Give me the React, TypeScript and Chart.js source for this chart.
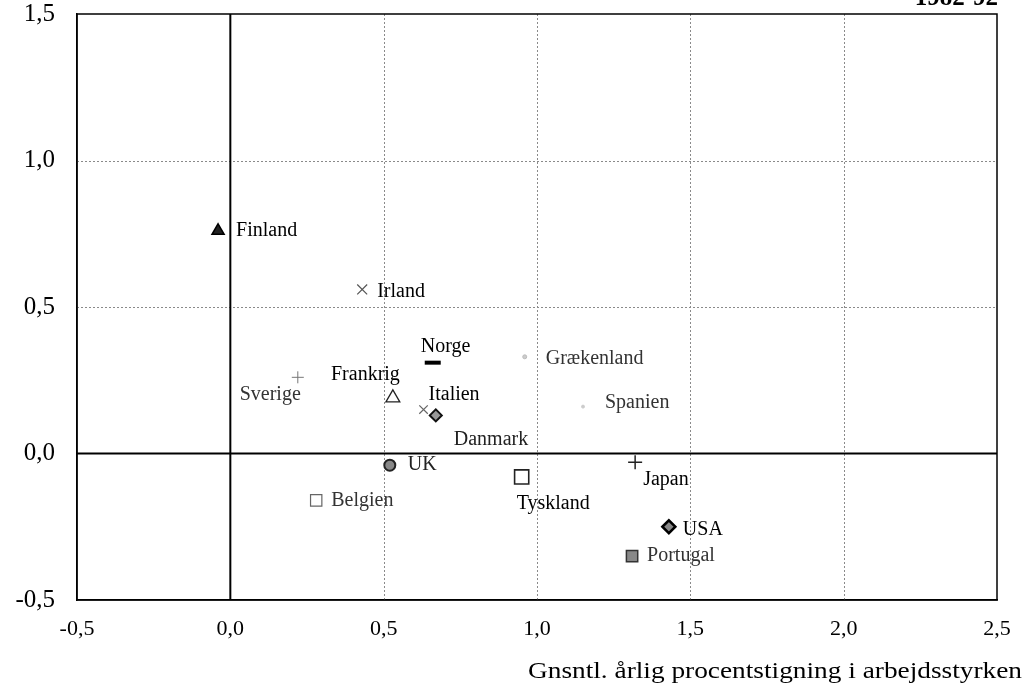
import React, { useEffect, useRef } from "react";
import { Chart, registerables } from "chart.js";

Chart.register(...registerables);

// ---- data ----
const COUNTRIES = [
  "Finland", "Irland", "Norge", "Grækenland", "Sverige", "Frankrig", "Italien", "Danmark",
  "Spanien", "UK", "Belgien", "Tyskland", "Japan", "USA", "Portugal",
];
const X_VALUES = [-0.04, 0.43, 0.66, 0.96, 0.22, 0.53, 0.63, 0.67, 1.15, 0.52, 0.28, 0.95, 1.32, 1.43, 1.31];
const Y_VALUES = [0.76, 0.56, 0.31, 0.33, 0.26, 0.19, 0.15, 0.13, 0.16, -0.04, -0.16, -0.08, -0.03, -0.25, -0.35];
const X_TICK_VALUES = [-0.5, 0, 0.5, 1, 1.5, 2, 2.5];
const X_TICK_LABELS = ["-0,5", "0,0", "0,5", "1,0", "1,5", "2,0", "2,5"];
const Y_TICK_VALUES = [-0.5, 0, 0.5, 1, 1.5];
const Y_TICK_LABELS = ["-0,5", "0,0", "0,5", "1,0", "1,5"];
const PERIOD = "1982-92";
const X_TITLE = "Gnsntl. årlig procentstigning i arbejdsstyrken";

// ---- styles ----
type Marker = { style: string; r: number; fill: string; stroke: string; w: number };
const MARKERS: Marker[] = [
  { style: "triangle", r: 7, fill: "#222", stroke: "#000", w: 1.5 },
  { style: "crossRot", r: 7, fill: "#666", stroke: "#555", w: 1.2 },
  { style: "line", r: 8, fill: "#000", stroke: "#000", w: 4 },
  { style: "circle", r: 2, fill: "#ccc", stroke: "#bbb", w: 1 },
  { style: "cross", r: 6, fill: "#888", stroke: "#777", w: 1 },
  { style: "triangle", r: 8, fill: "#fff", stroke: "#222", w: 1.3 },
  { style: "crossRot", r: 6, fill: "#777", stroke: "#666", w: 1.2 },
  { style: "rectRot", r: 6, fill: "#999", stroke: "#111", w: 2 },
  { style: "circle", r: 1.5, fill: "#ccc", stroke: "#ccc", w: 1 },
  { style: "circle", r: 5.5, fill: "#888", stroke: "#222", w: 2 },
  { style: "rect", r: 8, fill: "#fff", stroke: "#666", w: 1.2 },
  { style: "rect", r: 10, fill: "#fff", stroke: "#222", w: 1.6 },
  { style: "cross", r: 7, fill: "#222", stroke: "#222", w: 1.5 },
  { style: "rectRot", r: 6.5, fill: "#888", stroke: "#000", w: 2.5 },
  { style: "rect", r: 8, fill: "#888", stroke: "#333", w: 1.5 },
];
type Lab = { dx: number; dy: number; align: CanvasTextAlign; color: string };
const LABELS: Lab[] = [
  { dx: 18, dy: 0, align: "left", color: "#000" },
  { dx: 15, dy: 2, align: "left", color: "#000" },
  { dx: -12, dy: -16, align: "left", color: "#000" },
  { dx: 21, dy: 2, align: "left", color: "#333" },
  { dx: 3, dy: 17, align: "right", color: "#333" },
  { dx: 7, dy: -23, align: "right", color: "#000" },
  { dx: 5, dy: -15, align: "left", color: "#000" },
  { dx: 18, dy: 24, align: "left", color: "#222" },
  { dx: 22, dy: -4, align: "left", color: "#333" },
  { dx: 18, dy: 0, align: "left", color: "#222" },
  { dx: 15, dy: 0, align: "left", color: "#333" },
  { dx: -5, dy: 27, align: "left", color: "#000" },
  { dx: 8, dy: 17, align: "left", color: "#000" },
  { dx: 14, dy: 3, align: "left", color: "#000" },
  { dx: 15, dy: 0, align: "left", color: "#333" },
];

const SERIF = "'Liberation Serif', 'DejaVu Serif', serif";

function tickLabel(values: number[], labels: string[], v: number): string {
  const i = values.findIndex((t) => Math.abs(t - v) < 1e-6);
  return i >= 0 ? labels[i] : "";
}

const gridPlugin = {
  id: "customGrid",
  beforeDatasetsDraw(chart: any) {
    const { ctx, chartArea, scales } = chart;
    const { left, right, top, bottom } = chartArea;
    ctx.save();
    ctx.strokeStyle = "#8a8a8a";
    ctx.lineWidth = 1;
    ctx.setLineDash([2, 2]);
    X_TICK_VALUES.forEach((v) => {
      if (v === 0 || v === scales.x.min || v === scales.x.max) return;
      const px = Math.round(scales.x.getPixelForValue(v)) + 0.5;
      ctx.beginPath();
      ctx.moveTo(px, top);
      ctx.lineTo(px, bottom);
      ctx.stroke();
    });
    Y_TICK_VALUES.forEach((v) => {
      if (v === 0 || v === scales.y.min || v === scales.y.max) return;
      const py = Math.round(scales.y.getPixelForValue(v)) + 0.5;
      ctx.beginPath();
      ctx.moveTo(left, py);
      ctx.lineTo(right, py);
      ctx.stroke();
    });
    ctx.setLineDash([]);
    ctx.strokeStyle = "#000";
    ctx.lineWidth = 2;
    const x0 = scales.x.getPixelForValue(0);
    const y0 = scales.y.getPixelForValue(0);
    ctx.beginPath();
    ctx.moveTo(x0, top);
    ctx.lineTo(x0, bottom);
    ctx.moveTo(left, y0);
    ctx.lineTo(right, y0);
    ctx.stroke();
    ctx.restore();
  },
};

const framePlugin = {
  id: "frameAndText",
  afterDraw(chart: any) {
    const { ctx, chartArea } = chart;
    ctx.save();
    ctx.strokeStyle = "#000";
    ctx.lineWidth = 1.5;
    ctx.strokeRect(chartArea.left, chartArea.top, chartArea.right - chartArea.left, chartArea.bottom - chartArea.top);
    ctx.fillStyle = "#000";
    ctx.font = `bold 25px ${SERIF}`;
    ctx.textAlign = "right";
    ctx.textBaseline = "alphabetic";
    ctx.fillText(PERIOD, 998, 5);
    ctx.font = `24px ${SERIF}`;
    ctx.textBaseline = "middle";
    ctx.textAlign = "left";
    const w = ctx.measureText(X_TITLE).width;
    const target = 1022 - 528;
    const sx = target / w;
    ctx.translate(528, 672);
    ctx.scale(sx, 1);
    ctx.fillText(X_TITLE, 0, 0);
    ctx.restore();
  },
};

const labelPlugin = {
  id: "pointLabels",
  afterDatasetsDraw(chart: any) {
    const { ctx } = chart;
    ctx.save();
    ctx.font = `20px ${SERIF}`;
    ctx.textBaseline = "middle";
    chart.data.datasets.forEach((ds: any, i: number) => {
      const el = chart.getDatasetMeta(i).data[0];
      if (!el) return;
      const l = LABELS[i];
      ctx.fillStyle = l.color;
      ctx.textAlign = l.align;
      ctx.fillText(ds.label, el.x + l.dx, el.y + l.dy);
    });
    ctx.restore();
  },
};

export default function App() {
  const ref = useRef<HTMLCanvasElement>(null);
  useEffect(() => {
    if (!ref.current) return;
    const datasets = COUNTRIES.map((c, i) => {
      const m = MARKERS[i];
      return {
        label: c,
        data: [{ x: X_VALUES[i], y: Y_VALUES[i] }],
        pointStyle: m.style as any,
        pointRadius: m.r,
        backgroundColor: m.fill,
        borderColor: m.stroke,
        borderWidth: m.w,
      };
    });
    const chart = new Chart(ref.current, {
      type: "scatter",
      data: { datasets },
      plugins: [gridPlugin, labelPlugin, framePlugin],
      options: {
        animation: false,
        responsive: true,
        maintainAspectRatio: false,
        layout: { padding: { top: 14, right: 31, left: 0, bottom: 0 } },
        plugins: { legend: { display: false }, tooltip: { enabled: false } },
        scales: {
          x: {
            type: "linear",
            min: -0.5,
            max: 2.5,
            afterFit: (s: any) => { s.height = 87; s.paddingLeft = 0; s.paddingRight = 0; },
            afterBuildTicks: (s: any) => { s.ticks = X_TICK_VALUES.map((v) => ({ value: v })); },
            ticks: {
              color: "#000",
              font: { family: SERIF, size: 22 },
              padding: 16,
              maxRotation: 0,
              callback: (v: any) => tickLabel(X_TICK_VALUES, X_TICK_LABELS, Number(v)),
            },
            grid: { display: false, drawTicks: false },
            border: { display: true, color: "#000", width: 1.5 },
          },
          y: {
            type: "linear",
            min: -0.5,
            max: 1.5,
            afterFit: (s: any) => { s.width = 77; s.paddingTop = 0; s.paddingBottom = 0; },
            afterBuildTicks: (s: any) => { s.ticks = Y_TICK_VALUES.map((v) => ({ value: v })); },
            ticks: {
              color: "#000",
              font: { family: SERIF, size: 25 },
              padding: 22,
              callback: (v: any) => tickLabel(Y_TICK_VALUES, Y_TICK_LABELS, Number(v)),
            },
            grid: { display: false, drawTicks: false },
            border: { display: true, color: "#000", width: 1.5 },
          },
        },
      } as any,
    });
    return () => chart.destroy();
  }, []);
  return (
    <div style={{ position: "absolute", left: 0, top: 0, width: 1028, height: 687, background: "#fff" }}>
      <canvas ref={ref} />
    </div>
  );
}
